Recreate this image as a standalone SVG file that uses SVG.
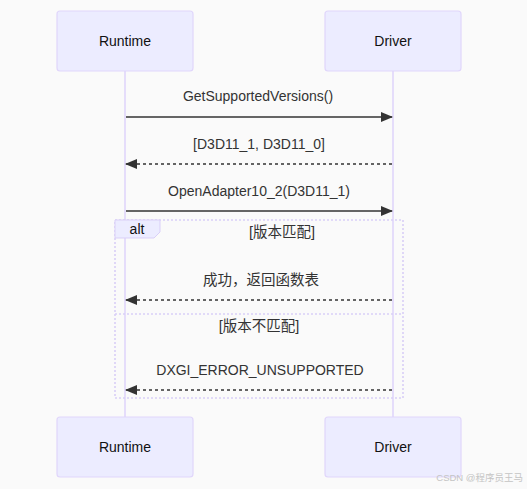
<svg xmlns="http://www.w3.org/2000/svg" width="527" height="489" viewBox="0 0 527 489">
<style>
.bg{fill:#fafafa}
.actor{fill:#ececff;stroke:#e0d6fb;stroke-width:1.2}
.atext{font-family:"Liberation Sans","Noto Sans CJK SC",sans-serif;font-size:14px;fill:#111;text-anchor:middle}
.life{stroke:#e0d6fb;stroke-width:1.6;fill:none}
.msg{stroke:#333;stroke-width:1.4;fill:none}
.dash{stroke-dasharray:3,3}
.mtext{font-family:"Liberation Sans","Noto Sans CJK SC",sans-serif;font-size:14px;fill:#333;text-anchor:middle}
.cjk{font-size:14.5px}
.loop{fill:none;stroke:#d9cff7;stroke-width:1.6;stroke-dasharray:2,2}
.tab{fill:#ececff;stroke:#d9cff7;stroke-width:1}
.wm{font-family:"Liberation Sans","Noto Sans CJK SC",sans-serif;font-size:9.5px;fill:#c4c4c4}
</style>
<defs>
<marker id="ah" viewBox="0 0 12 10" refX="11" refY="5" markerWidth="12" markerHeight="10" markerUnits="userSpaceOnUse" orient="auto">
<path d="M0,0 L12,5 L0,10 z" fill="#333"/>
</marker>
</defs>
<rect class="bg" x="0" y="0" width="527" height="489"/>
<g id="lifelines">
<line class="life" x1="125" y1="71" x2="125" y2="417"/>
<line class="life" x1="393" y1="71" x2="393" y2="417"/>
</g>
<g id="alt-fragment">
<rect class="loop" x="115" y="220" width="288" height="178"/>
<line class="loop" x1="115" y1="314" x2="403" y2="314"/>
<path class="tab" d="M115,220 H160 V232 L154,238 H115 Z"/>
<text class="atext" x="137" y="234">alt</text>
<text class="mtext cjk" x="282" y="237">[版本匹配]</text>
<text class="mtext cjk" x="259" y="331">[版本不匹配]</text>
</g>
<g id="runtime-top"><rect class="actor" x="57" y="11" width="136" height="60" rx="3"/><text class="atext" x="125" y="46">Runtime</text></g>
<g id="driver-top"><rect class="actor" x="325" y="11" width="136" height="60" rx="3"/><text class="atext" x="393" y="46">Driver</text></g>
<g id="runtime-bottom"><rect class="actor" x="57" y="417" width="136" height="60" rx="3"/><text class="atext" x="125" y="452">Runtime</text></g>
<g id="driver-bottom"><rect class="actor" x="325" y="417" width="136" height="60" rx="3"/><text class="atext" x="393" y="452">Driver</text></g>
<g id="connectors">
<line class="msg" x1="126" y1="117" x2="392" y2="117" marker-end="url(#ah)"/>
<text class="mtext" x="258" y="101">GetSupportedVersions()</text>
<line class="msg dash" x1="392" y1="164" x2="126" y2="164" marker-end="url(#ah)"/>
<text class="mtext" x="259" y="149">[D3D11_1, D3D11_0]</text>
<line class="msg" x1="126" y1="211" x2="392" y2="211" marker-end="url(#ah)"/>
<text class="mtext" x="259" y="196">OpenAdapter10_2(D3D11_1)</text>
<line class="msg dash" x1="392" y1="300" x2="126" y2="300" marker-end="url(#ah)"/>
<text class="mtext cjk" x="261" y="285">成功，返回函数表</text>
<line class="msg dash" x1="392" y1="390" x2="126" y2="390" marker-end="url(#ah)"/>
<text class="mtext" x="260" y="375">DXGI_ERROR_UNSUPPORTED</text>
</g>
<text class="wm" x="523" y="481" text-anchor="end">CSDN @程序员王马</text>
</svg>
